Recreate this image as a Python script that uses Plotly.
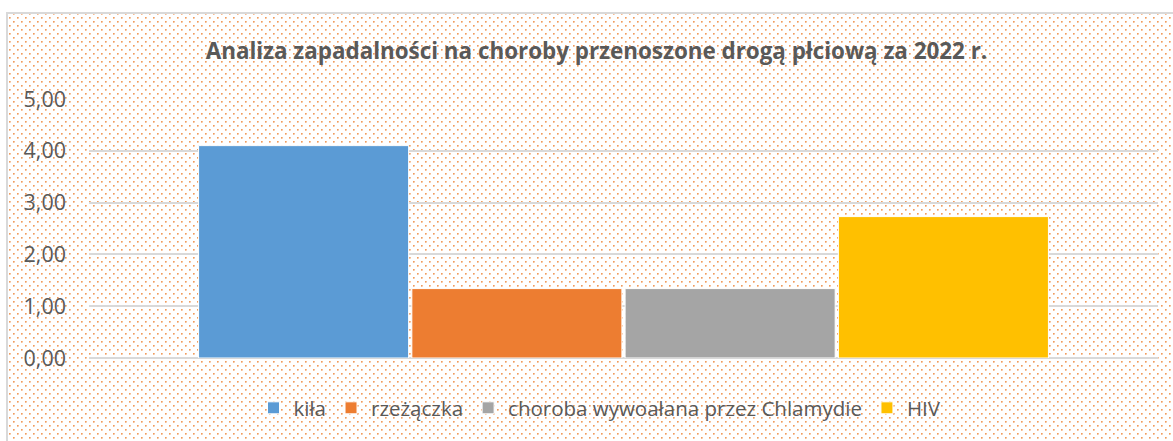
import base64
import plotly.graph_objects as go

# ---- data ----
series_names = ["kiła", "rzeżączka", "choroba wywoałana przez Chlamydie", "HIV"]
series_values = [4.10, 1.34, 1.34, 2.73]
series_colors = ["#5B9BD5", "#ED7D31", "#A5A5A5", "#FFC000"]
category = [""]
title_text = "Analiza zapadalności na choroby przenoszone drogą płciową za 2022 r."

W, H = 1173, 441
L, R, T, B = 89, 15, 99, 83
PW, PH = W - L - R, H - T - B

FONT = "Open Sans"
TXT = "#595959"

fig = go.Figure()
for name, val, col in zip(series_names, series_values, series_colors):
    fig.add_trace(go.Bar(
        x=category, y=[val], name=name,
        marker=dict(color=col, line=dict(color="white", width=1)),
    ))

# dotted background (Excel 5% pattern) + chart border
svg = f"""<svg xmlns='http://www.w3.org/2000/svg' width='{W}' height='{H}' viewBox='0 0 {W} {H}' preserveAspectRatio='none' shape-rendering='crispEdges'>
<defs><pattern id='p' x='0' y='0' width='8' height='8' patternUnits='userSpaceOnUse'>
<rect x='1' y='1' width='1' height='1' fill='#F09C5E'/>
<rect x='2' y='1' width='1' height='1' fill='#F5BC92'/>
<rect x='1' y='2' width='1' height='1' fill='#F5BC92'/>
<rect x='2' y='2' width='1' height='1' fill='#FAD8BF'/>
<rect x='5' y='5' width='1' height='1' fill='#F09C5E'/>
<rect x='6' y='5' width='1' height='1' fill='#F5BC92'/>
<rect x='5' y='6' width='1' height='1' fill='#F5BC92'/>
<rect x='6' y='6' width='1' height='1' fill='#FAD8BF'/>
</pattern></defs>
<rect x='8' y='14' width='{W}' height='{H}' fill='url(#p)'/>
<rect x='7' y='13' width='{W+20}' height='{H+20}' fill='none' stroke='#D9D9D9' stroke-width='2'/>
</svg>"""
uri = "data:image/svg+xml;base64," + base64.b64encode(svg.encode()).decode()

fig.update_layout(
    width=W, height=H,
    margin=dict(l=L, r=R, t=T, b=B),
    paper_bgcolor="white",
    plot_bgcolor="rgba(0,0,0,0)",
    separators=", ",
    barmode="group",
    bargap=0.202,
    bargroupgap=0.015,
    font=dict(family=FONT, color=TXT, size=20),
    title=dict(
        text="<b>" + title_text + "</b>",
        font=dict(family=FONT, size=22.4, color=TXT),
        x=596.5 / W, xanchor="center", xref="container",
        y=1 - 51 / H, yanchor="middle", yref="container",
    ),
    legend=dict(
        orientation="h", x=600 / W, xanchor="center", xref="container",
        y=1 - 408 / H, yanchor="middle", yref="container",
        font=dict(family=FONT, size=20.5, color=TXT),
        bgcolor="rgba(0,0,0,0)", itemwidth=30,
    ),
    images=[dict(
        source=uri, xref="paper", yref="paper",
        x=-L / PW, y=1 + T / PH, sizex=W / PW, sizey=H / PH,
        xanchor="left", yanchor="top", sizing="stretch", layer="below",
    )],
    showlegend=True,
)
fig.update_xaxes(showticklabels=False, showgrid=False, zeroline=False, showline=False)
fig.update_yaxes(
    range=[0, 5], tickvals=[0, 1, 2, 3, 4, 5], tickformat=".2f",
    showgrid=True, gridcolor="#D9D9D9", gridwidth=1.5,
    zeroline=True, zerolinecolor="#D9D9D9", zerolinewidth=1.5,
    showline=False, ticks="", ticklabelstandoff=22,
    tickfont=dict(family=FONT, size=21.5, color=TXT),
)
fig.write_html(
    "out.html",
    config={"displayModeBar": False},
    post_script="document.body.style.margin='0px';document.body.style.overflow='hidden';",
)
